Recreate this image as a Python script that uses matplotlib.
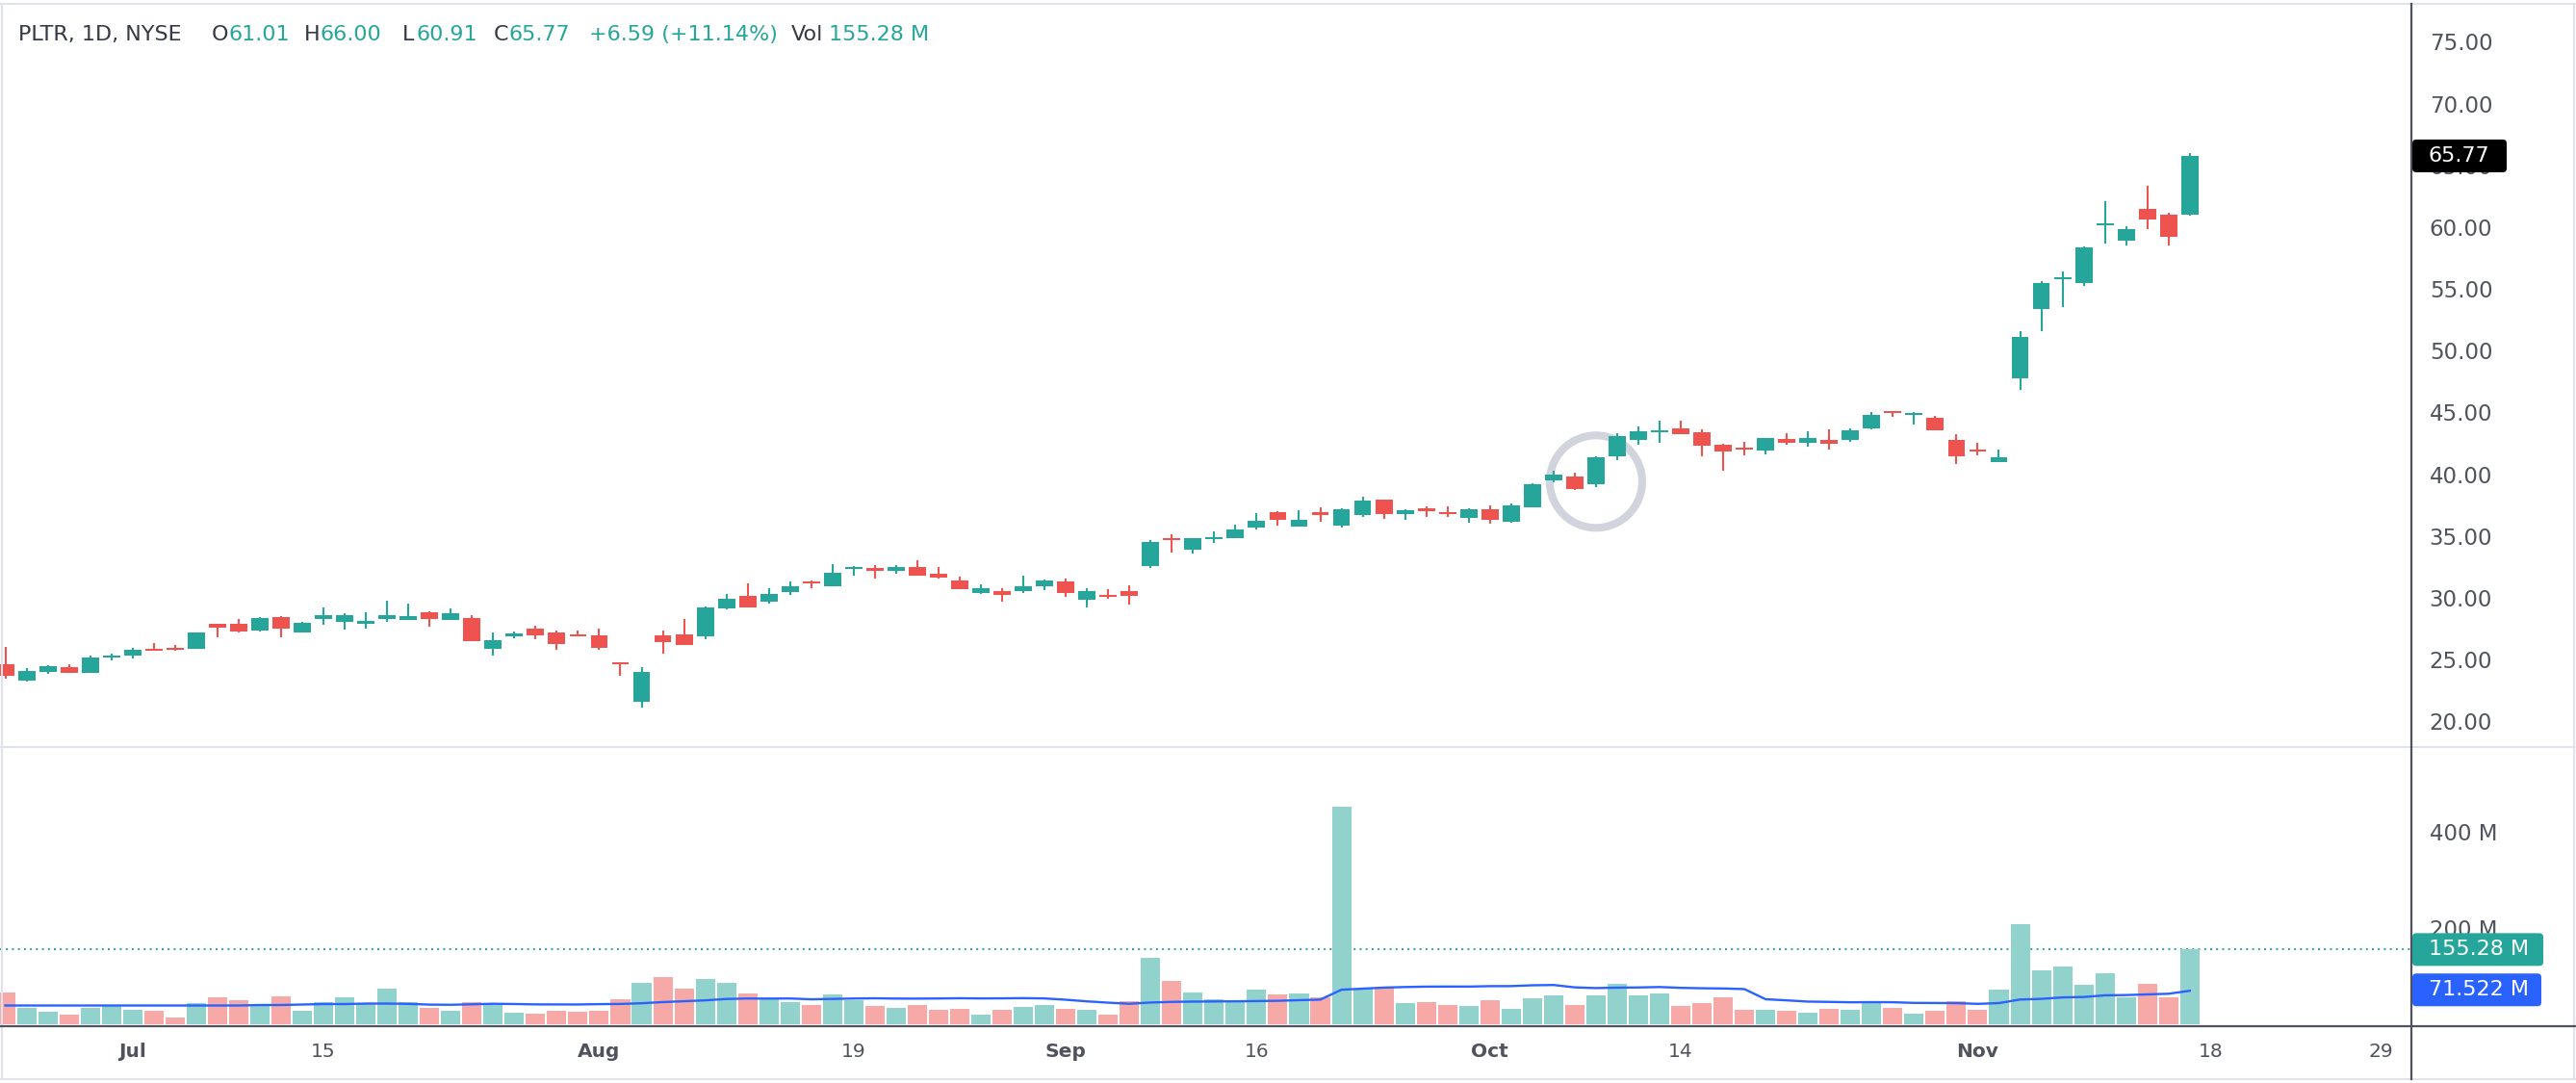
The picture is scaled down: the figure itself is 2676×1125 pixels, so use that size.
import numpy as np
import pandas as pd
import matplotlib
matplotlib.use('Agg')
import matplotlib.pyplot as plt
from matplotlib.patches import FancyBboxPatch, Ellipse
from matplotlib.lines import Line2D
from matplotlib.transforms import IdentityTransform

plt.rcParams['font.family'] = ['DejaVu Sans']

# PLTR daily, 2024-06-21 .. 2024-11-15 (trading days)
first_day = '2024-06-21'
holidays = ['2024-07-04', '2024-09-02', '2024-11-28']

opens = [24.61, 23.31, 23.99, 24.38, 23.91, 25.16,
         25.32, 25.86, 25.94, 25.86,
         27.89, 27.89, 27.34, 28.43, 27.19,
         28.28, 28.04, 27.89, 28.28, 28.20,
         28.82, 28.20, 28.36, 25.86, 26.87,
         27.50, 27.19, 27.03, 26.95, 24.77,
         21.57, 26.95, 27.03, 26.88, 29.13,
         30.15, 29.68, 30.46, 31.32, 30.93,
         32.33, 32.41, 32.17, 32.49, 31.94,
         31.40, 30.38, 30.54, 30.54, 30.93,
         31.32, 29.84, 30.23, 30.54,
         32.56, 34.82, 33.89, 34.75, 34.82,
         35.68, 36.93, 35.76, 36.93, 35.84,
         36.70, 37.94, 36.77, 37.24, 36.93,
         36.46, 37.16, 36.15, 37.32, 39.50,
         39.81, 39.19, 41.45, 42.77, 43.40,
         43.71, 43.40, 42.38, 42.15, 41.92,
         42.85, 42.54, 42.77, 42.77, 43.71,
         45.11, 44.80, 44.57, 42.77, 41.99,
         40.98, 47.76, 53.37, 55.79, 55.48,
         60.16, 58.91, 61.48, 61.01, 61.01]
highs = [26.02, 24.30, 24.56, 24.61, 25.32, 25.47,
         25.94, 26.33, 26.17, 27.21,
         27.92, 28.28, 28.43, 28.51, 28.04,
         29.21, 28.74, 28.82, 29.76, 29.52,
         28.90, 29.13, 28.59, 27.19, 27.26,
         27.73, 27.34, 27.34, 27.50, 24.79,
         24.38, 27.34, 28.28, 29.29, 30.30,
         31.16, 30.77, 31.32, 31.40, 32.72,
         32.56, 32.64, 32.64, 33.03, 32.49,
         31.71, 31.08, 30.77, 31.79, 31.47,
         31.55, 30.77, 30.69, 31.01,
         34.67, 35.14, 34.84, 35.37, 35.92,
         36.85, 37.01, 37.09, 37.32, 37.24,
         38.18, 37.96, 37.16, 37.40, 37.40,
         37.24, 37.47, 37.63, 39.27, 40.28,
         40.13, 41.45, 43.32, 43.87, 44.33,
         44.33, 43.63, 42.46, 42.62, 42.95,
         43.32, 43.48, 43.63, 43.71, 45.04,
         45.13, 45.04, 44.72, 43.24, 42.54,
         41.99, 51.58, 55.64, 56.41, 58.44,
         62.10, 60.08, 63.35, 61.17, 66.00]
lows = [23.45, 23.21, 23.83, 23.88, 23.88, 24.93,
        25.08, 25.68, 25.70, 25.84,
        26.80, 27.19, 27.26, 26.80, 27.17,
        27.81, 27.42, 27.50, 28.04, 28.18,
        27.65, 28.18, 26.47, 25.32, 26.72,
        26.64, 25.78, 26.85, 25.78, 23.68,
        21.11, 25.47, 26.15, 26.64, 29.06,
        29.19, 29.52, 30.23, 30.77, 30.91,
        31.79, 31.55, 31.94, 31.77, 31.55,
        30.67, 30.30, 29.68, 30.38, 30.62,
        30.07, 29.21, 29.91, 29.45,
        32.41, 33.66, 33.58, 34.43, 34.80,
        35.53, 35.84, 35.74, 36.15, 35.68,
        36.54, 36.38, 36.30, 36.54, 36.54,
        36.07, 35.99, 36.07, 37.30, 39.35,
        38.72, 38.95, 41.14, 42.38, 42.54,
        43.22, 41.45, 40.28, 41.53, 41.61,
        42.38, 42.23, 41.99, 42.62, 43.63,
        44.65, 44.02, 43.53, 40.83, 41.53,
        40.96, 46.83, 51.58, 53.53, 55.25,
        58.67, 58.52, 59.84, 58.52, 60.91]
closes = [23.68, 24.07, 24.46, 23.91, 25.16, 25.32,
          25.78, 25.70, 25.78, 27.19,
          27.58, 27.26, 28.36, 27.50, 27.97,
          28.59, 28.59, 28.12, 28.59, 28.51,
          28.28, 28.74, 26.49, 26.56, 27.11,
          26.95, 26.25, 26.87, 25.94, 24.61,
          24.02, 26.41, 26.17, 29.21, 29.91,
          29.21, 30.30, 30.93, 31.16, 32.02,
          32.49, 32.17, 32.49, 31.79, 31.63,
          30.69, 30.77, 30.23, 30.93, 31.40,
          30.38, 30.54, 30.07, 30.15,
          34.51, 34.67, 34.82, 34.90, 35.53,
          36.23, 36.30, 36.30, 36.70, 37.16,
          37.87, 36.77, 37.09, 37.01, 36.77,
          37.16, 36.30, 37.47, 39.19, 39.97,
          38.80, 41.37, 43.09, 43.48, 43.55,
          43.24, 42.31, 41.84, 41.99, 42.93,
          42.54, 42.93, 42.46, 43.55, 44.80,
          44.96, 44.96, 43.55, 41.45, 41.84,
          41.37, 51.11, 55.48, 55.95, 58.36,
          60.31, 59.84, 60.62, 59.18, 65.77]
# volume in millions
volumes = [67, 35, 27, 21, 35, 39,
           31, 29, 15, 45,
           57, 51, 39, 59, 29,
           47, 57, 43, 75, 47,
           35, 29, 47, 43, 25,
           23, 29, 27, 29, 53,
           87, 99, 75, 95, 87,
           65, 55, 47, 41, 63,
           51, 39, 35, 41, 31,
           33, 21, 31, 37, 41,
           33, 31, 21, 49,
           139, 91, 67, 53, 47,
           73, 63, 65, 57, 453,
           75, 77, 45, 47, 41,
           39, 51, 33, 55, 61,
           41, 61, 85, 61, 65,
           39, 45, 57, 31, 31,
           29, 25, 33, 31, 47,
           35, 23, 29, 49, 31,
           73, 209, 113, 121, 83,
           107, 57, 85, 57, 155.28]
# volume MA(20) for the first bars (history before the window)
ma_head = [39, 39, 39, 39, 39, 39, 39, 39, 39, 39, 39, 39,
           40, 40, 41, 42, 42, 43, 43]
ma_last_label = 71.522
change = 6.59
change_pct = 11.14

tick_dates = ['2024-07-01', '2024-07-15', '2024-08-01', '2024-08-19', '2024-09-03',
              '2024-09-16', '2024-10-01', '2024-10-14', '2024-11-01', '2024-11-18',
              '2024-11-29']
tick_text = ['Jul', '15', 'Aug', '19', 'Sep', '16', 'Oct', '14', 'Nov', '18', '29']
months = ['Jul', 'Aug', 'Sep', 'Oct', 'Nov']
price_ticks = [20, 25, 30, 35, 40, 45, 50, 55, 60, 65, 70, 75]
vol_ticks = [200, 400]
highlight_day = '2024-10-08'
highlight_price = 39.4

UP, DOWN = '#26A69A', '#EF5350'
UP_V, DOWN_V = '#92D2CC', '#F7A9A7'
DARK = '#363a45'
AXIS = '#50535E'
BORDER = '#E0E3EB'

W, H = 2676, 1125
SEP = 776      # price / volume pane border (px from top)
BASE = 1066    # time axis line
fig = plt.figure(figsize=(W / 100, H / 100), dpi=100)
fig.patch.set_facecolor('white')

ax_p = fig.add_axes([0, 1 - SEP / H, 2505 / W, (SEP - 5) / H])
ax_v = fig.add_axes([0, 1 - BASE / H, 2505 / W, (BASE - SEP) / H])

o = np.array(opens); h = np.array(highs); l = np.array(lows); c = np.array(closes)
v = np.array(volumes)
x = np.arange(len(o))
up = c >= o
col = np.where(up, UP, DOWN)

# candles
ax_p.vlines(x, l, h, colors=col, linewidth=1.5, zorder=3)
body = np.maximum(np.abs(c - o), 0.12)
ax_p.bar(x, body, bottom=np.minimum(o, c), width=0.81, color=col, zorder=4)

hx = np.busday_count(first_day, highlight_day, holidays=holidays)
ax_p.add_patch(Ellipse((hx, highlight_price), 96 / 22.03, 96 / 12.83, fill=False,
                       ec='#D1D4DC', lw=5.8, zorder=2))

ax_p.set_xlim(-0.254, 113.45)
ax_p.set_ylim(20 - (SEP - 749.2) / 12.83, 78.0)
ax_p.yaxis.tick_right()
ax_p.set_yticks(price_ticks)
ax_p.set_yticklabels(['%.2f' % t for t in price_ticks])
ax_p.tick_params(axis='y', length=0, pad=13.5, labelsize=16.5, labelcolor=AXIS)
ax_p.set_xticks([])
for s in ax_p.spines.values():
    s.set_visible(False)

# volume
ax_v.bar(x, v, width=0.91, color=np.where(up, UP_V, DOWN_V), zorder=2)
ma = pd.Series(v).rolling(20).mean()
ma.iloc[:len(ma_head)] = ma_head
ax_v.plot(x, ma, color='#2962FF', lw=1.7, zorder=3)
ax_v.axhline(v[-1], color=UP, lw=1.4, ls=(0, (1, 2.2)), zorder=1)
ax_v.set_xlim(-0.254, 113.45)
ax_v.set_ylim(-4, (1064 - SEP) * 2)
ax_v.yaxis.tick_right()
ax_v.set_yticks(vol_ticks)
ax_v.set_yticklabels(['%d M' % t for t in vol_ticks])
ax_v.tick_params(axis='y', length=0, pad=13.5, labelsize=16.5, labelcolor=AXIS)
pos = np.busday_count(first_day, tick_dates, holidays=holidays)
ax_v.set_xticks(pos)
ax_v.set_xticklabels(tick_text)
ax_v.tick_params(axis='x', length=0, pad=12, labelsize=14.5, labelcolor=AXIS)
for lab in ax_v.get_xticklabels():
    if lab.get_text() in months:
        lab.set_fontweight('bold')
for s in ax_v.spines.values():
    s.set_visible(False)

# frame lines
def hline(y, x0, x1, color, lw):
    fig.add_artist(Line2D([x0 / W, x1 / W], [1 - y / H, 1 - y / H], color=color, lw=lw,
                          transform=fig.transFigure))

def vline(xp, y0, y1, color, lw):
    fig.add_artist(Line2D([xp / W, xp / W], [1 - y0 / H, 1 - y1 / H], color=color, lw=lw,
                          transform=fig.transFigure))

hline(4, 0, W, BORDER, 1.5)
hline(1121, 0, W, BORDER, 1.5)
vline(2, 4, 1121, BORDER, 1.5)
vline(W - 2, 4, 1121, BORDER, 1.5)
hline(SEP, 0, W, BORDER, 1.5)
hline(BASE, 0, W, AXIS, 1.6)
vline(2505, 4, 1121, AXIS, 1.6)

# value tags on the right scale
def tag(ax, value, text, color, width):
    yb = ax.transData.transform((0, value))[1]
    fig.add_artist(FancyBboxPatch((2506, yb - 17), width, 34,
                                  boxstyle='round,pad=0,rounding_size=4',
                                  fc=color, ec='none', transform=IdentityTransform(),
                                  zorder=5))
    fig.text(2523 / W, yb / H, text, ha='left', va='center', color='white',
             fontsize=16, zorder=6)

tag(ax_p, c[-1], '%.2f' % c[-1], 'black', 98)
tag(ax_v, v[-1], '%.2f M' % v[-1], UP, 136)
tag(ax_v, ma_last_label, '%.3f M' % ma_last_label, '#2962FF', 134)

# header
ty = 1 - 36 / H
parts = [(19, 'PLTR, 1D, NYSE', DARK), (220, 'O', DARK), (237, '%.2f' % o[-1], UP),
         (316, 'H', DARK), (333, '%.2f' % h[-1], UP), (418, 'L', DARK),
         (432, '%.2f' % l[-1], UP), (513, 'C', DARK), (528, '%.2f' % c[-1], UP),
         (612, '+%.2f (+%.2f%%)' % (change, change_pct), UP), (822, 'Vol', DARK),
         (861, '%.2f M' % v[-1], UP)]
for px, s, cc in parts:
    fig.text(px / W, ty, s, ha='left', va='center', color=cc, fontsize=16)

fig.savefig('out.png', dpi=100, facecolor='white')
